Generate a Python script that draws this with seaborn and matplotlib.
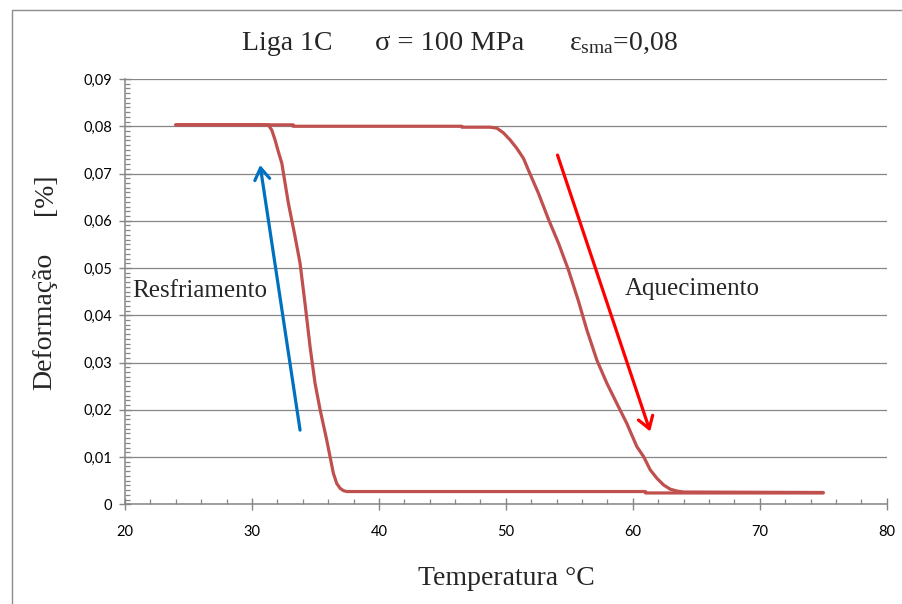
import matplotlib
matplotlib.use("Agg")
import matplotlib.pyplot as plt
from matplotlib.patches import Rectangle
from matplotlib.ticker import MultipleLocator, FuncFormatter
import seaborn as sns
import pandas as pd

# Cooling branch (Resfriamento): temperature [°C] and strain
cool_T = [75.0, 61.0, 61.0, 37.47, 37.20, 36.94, 36.68, 36.41, 36.15, 35.89,
          35.37, 34.97, 34.58, 34.18, 33.79, 33.40, 32.87, 32.35, 32.08, 31.82,
          31.56, 31.29, 24.0]
cool_eps = [0.0024, 0.0024, 0.0027, 0.0027, 0.0029, 0.0034, 0.0044, 0.0066,
            0.0101, 0.0136, 0.0200, 0.0256, 0.0333, 0.0425, 0.0510, 0.0566,
            0.0637, 0.0722, 0.0746, 0.0771, 0.0792, 0.0803, 0.0803]

# Heating branch (Aquecimento)
heat_T = [24.0, 33.24, 33.24, 46.53, 46.53, 48.76, 49.29, 49.81, 50.34, 50.87,
          51.39, 51.78, 52.57, 53.36, 54.14, 54.93, 55.72, 56.38, 57.17, 57.96,
          58.75, 59.53, 60.32, 60.85, 61.37, 61.90, 62.42, 62.95, 63.48, 64.0,
          75.0]
heat_eps = [0.0803, 0.0803, 0.0800, 0.0800, 0.0798, 0.0798, 0.0796, 0.0786,
            0.0771, 0.0753, 0.0732, 0.0707, 0.0658, 0.0603, 0.0553, 0.0496,
            0.0430, 0.0369, 0.0305, 0.0256, 0.0213, 0.0171, 0.0122, 0.0101,
            0.0073, 0.0055, 0.0041, 0.0032, 0.0028, 0.0026, 0.0025]

x_ticks = [20, 30, 40, 50, 60, 70, 80]
y_ticks = [0, 0.01, 0.02, 0.03, 0.04, 0.05, 0.06, 0.07, 0.08, 0.09]

sns.set_style("white")
plt.rcParams["font.family"] = ["Liberation Serif", "DejaVu Serif"]
plt.rcParams["mathtext.fontset"] = "custom"
plt.rcParams["mathtext.rm"] = "Liberation Serif"
plt.rcParams["mathtext.it"] = "Liberation Serif:italic"

W, H = 902, 604
fig = plt.figure(figsize=(W / 100, H / 100), dpi=100)


def fx(px):
    return px / W


def fy(py):
    return 1 - py / H


ax = fig.add_axes([fx(125), fy(504.3), fx(886.7) - fx(125), fy(79) - fy(504.3)])

df = pd.concat([
    pd.DataFrame({"T": cool_T, "eps": cool_eps, "ramo": "Resfriamento"}),
    pd.DataFrame({"T": heat_T, "eps": heat_eps, "ramo": "Aquecimento"}),
])
line_col = "#C0504D"
sns.lineplot(data=df, x="T", y="eps", hue="ramo", units="ramo", estimator=None,
             sort=False, palette={"Resfriamento": line_col, "Aquecimento": line_col},
             linewidth=2.3, legend=False, ax=ax, zorder=3)

grey = "#868686"
ax.set_xlim(20, 80)
ax.set_ylim(0, 0.09)
ax.set_xticks(x_ticks)
ax.set_yticks(y_ticks)
ax.xaxis.set_minor_locator(MultipleLocator(2))
ax.yaxis.set_minor_locator(MultipleLocator(0.001))
ax.yaxis.set_major_formatter(FuncFormatter(lambda v, p: "0" if abs(v) < 1e-9 else f"{v:.2f}".replace(".", ",")))
ax.xaxis.set_major_formatter(FuncFormatter(lambda v, p: f"{v:.0f}"))

for s in ["top", "right"]:
    ax.spines[s].set_visible(False)
for s in ["left", "bottom"]:
    ax.spines[s].set_color(grey)
    ax.spines[s].set_linewidth(1.1)

ax.grid(axis="y", color=grey, linewidth=0.9, zorder=0)
ax.grid(axis="x", visible=False)
ax.set_axisbelow(True)

ax.tick_params(axis="both", which="both", bottom=True, left=True, top=False, right=False)
ax.tick_params(axis="both", which="major", direction="inout", length=8, width=1.0,
               color=grey, labelsize=10.5, labelcolor="black")
ax.tick_params(axis="y", which="major", pad=5)
ax.tick_params(axis="x", which="major", pad=11)
ax.tick_params(axis="both", which="minor", direction="in", length=3.5, width=0.9, color=grey)
for lab in ax.get_xticklabels() + ax.get_yticklabels():
    lab.set_fontfamily(["Lato", "DejaVu Sans"])

ax.set_xlabel("")
ax.set_ylabel("")
fig.text(fx(506), fy(585), "Temperatura °C", fontsize=20, ha="center", va="baseline")
fig.text(fx(45), fy(390), "Deformação", fontsize=20, rotation=90, ha="center", va="bottom")
fig.text(fx(45), fy(173), "[%]", fontsize=20, rotation=90, ha="center", va="top")

# Title pieces
fig.text(fx(241.7), fy(50), "Liga 1C", fontsize=20, ha="left", va="baseline")
fig.text(fx(375), fy(50), "σ = 100 MPa", fontsize=20.5, ha="left", va="baseline")
fig.text(fx(569), fy(50), r"ε$_{\mathrm{sma}}$=0,08", fontsize=20, ha="left", va="baseline")

# Direction arrows
ax.annotate("", xy=(30.64, 0.0718), xytext=(33.79, 0.0157),
            arrowprops=dict(arrowstyle="->,head_length=0.7,head_width=0.45",
                            color="#0070C0", lw=2.3, mutation_scale=12,
                            shrinkA=0, shrinkB=0), zorder=4)
ax.annotate("", xy=(61.37, 0.0154), xytext=(54.07, 0.0739),
            arrowprops=dict(arrowstyle="->,head_length=0.7,head_width=0.45",
                            color="#FF0000", lw=2.3, mutation_scale=12,
                            shrinkA=0, shrinkB=0), zorder=4)

ax.text(20.53, 0.0439, "Resfriamento", fontsize=18, ha="left", va="baseline")
ax.text(59.4, 0.0443, "Aquecimento", fontsize=18, ha="left", va="baseline")

# Chart-area border
fig.patches.append(Rectangle((fx(11.5), fy(700)), fx(1000), fy(9.5) - fy(700),
                             transform=fig.transFigure, fill=False,
                             edgecolor="#8c8c8c", linewidth=1.0))

fig.savefig("out.png", dpi=100)
